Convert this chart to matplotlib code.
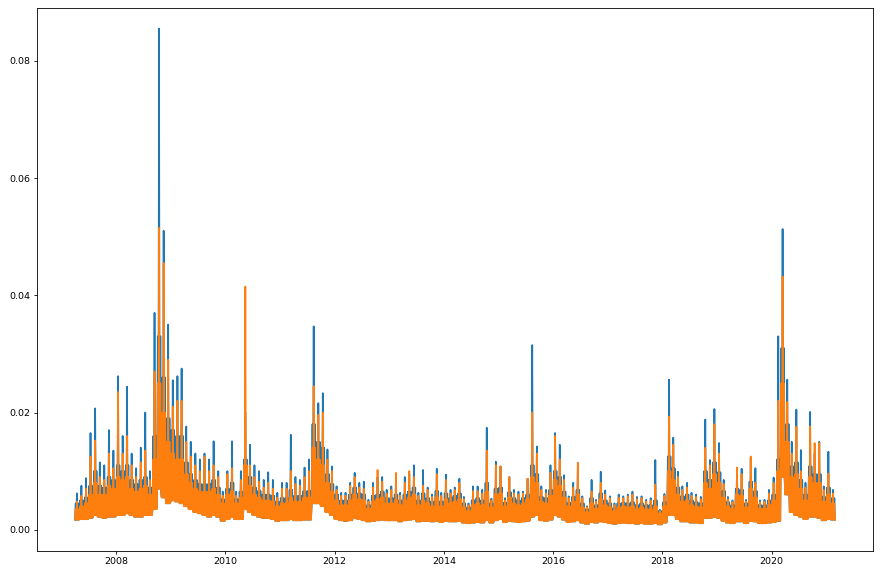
import numpy as np
import pandas as pd
import matplotlib
matplotlib.use('Agg')
import matplotlib.pyplot as plt
import matplotlib.dates as mdates

# monthly readings, Apr 2007 .. Feb 2021
months = pd.date_range('2007-04-01', '2021-02-01', freq='MS')

# blue series: monthly peak and typical band top
blue_hi = (
    [0.0062, 0.0075, 0.0088, 0.0165, 0.0207, 0.0115, 0.0110, 0.0170, 0.0135]
    + [0.0262, 0.0160, 0.0244, 0.0130, 0.0105, 0.0140, 0.0200, 0.0100, 0.0370, 0.0855, 0.0510, 0.0350]
    + [0.0255, 0.0262, 0.0275, 0.0176, 0.0150, 0.0130, 0.0120, 0.0130, 0.0120, 0.0151, 0.0100, 0.0065]
    + [0.0100, 0.0151, 0.0065, 0.0100, 0.0200, 0.0145, 0.0110, 0.0100, 0.0085, 0.0098, 0.0085, 0.0063]
    + [0.0080, 0.0080, 0.0162, 0.0090, 0.0085, 0.0106, 0.0120, 0.0347, 0.0216, 0.0233, 0.0137, 0.0108]
    + [0.0074, 0.0063, 0.0063, 0.0080, 0.0097, 0.0080, 0.0082, 0.0051, 0.0080, 0.0090, 0.0090, 0.0068]
    + [0.0074, 0.0085, 0.0063, 0.0090, 0.0095, 0.0110, 0.0063, 0.0102, 0.0072, 0.0060, 0.0104, 0.0063]
    + [0.0094, 0.0068, 0.0072, 0.0087, 0.0056, 0.0045, 0.0074, 0.0074, 0.0068, 0.0174, 0.0053, 0.0116]
    + [0.0108, 0.0054, 0.0090, 0.0068, 0.0065, 0.0065, 0.0087, 0.0315, 0.0142, 0.0074, 0.0068, 0.0110]
    + [0.0165, 0.0145, 0.0093, 0.0057, 0.0080, 0.0114, 0.0057, 0.0040, 0.0085, 0.0051, 0.0099, 0.0067]
    + [0.0057, 0.0045, 0.0060, 0.0057, 0.0060, 0.0065, 0.0056, 0.0057, 0.0051, 0.0054, 0.0119, 0.0034]
    + [0.0061, 0.0256, 0.0157, 0.0099, 0.0074, 0.0080, 0.0063, 0.0060, 0.0056, 0.0188, 0.0119, 0.0206]
    + [0.0148, 0.0085, 0.0056, 0.0050, 0.0106, 0.0104, 0.0051, 0.0123, 0.0105, 0.0050, 0.0051, 0.0068]
    + [0.0089, 0.0330, 0.0513, 0.0256, 0.0150, 0.0205, 0.0136, 0.0080, 0.0201, 0.0130, 0.0150, 0.0074]
    + [0.0133, 0.0068]
)
blue_mid = (
    [0.0045, 0.0050, 0.0055, 0.0075, 0.0100, 0.0075, 0.0072, 0.0090, 0.0085]
    + [0.0110, 0.0100, 0.0110, 0.0085, 0.0078, 0.0085, 0.0090, 0.0072, 0.0160, 0.0330, 0.0260, 0.0190]
    + [0.0170, 0.0160, 0.0160, 0.0115, 0.0095, 0.0085, 0.0078, 0.0078, 0.0078, 0.0085, 0.0072, 0.0052]
    + [0.0070, 0.0080, 0.0052, 0.0065, 0.0120, 0.0090, 0.0072, 0.0066, 0.0060, 0.0060, 0.0058, 0.0048]
    + [0.0054, 0.0054, 0.0068, 0.0058, 0.0058, 0.0066, 0.0066, 0.0180, 0.0150, 0.0140, 0.0095, 0.0078]
    + [0.0060, 0.0050, 0.0050, 0.0060, 0.0072, 0.0062, 0.0060, 0.0042, 0.0058, 0.0060, 0.0065, 0.0054]
    + [0.0054, 0.0060, 0.0050, 0.0060, 0.0065, 0.0072, 0.0050, 0.0062, 0.0054, 0.0048, 0.0066, 0.0048]
    + [0.0062, 0.0054, 0.0058, 0.0062, 0.0045, 0.0038, 0.0050, 0.0054, 0.0050, 0.0080, 0.0045, 0.0070]
    + [0.0072, 0.0046, 0.0064, 0.0054, 0.0050, 0.0054, 0.0060, 0.0110, 0.0095, 0.0056, 0.0054, 0.0068]
    + [0.0100, 0.0090, 0.0065, 0.0046, 0.0056, 0.0068, 0.0045, 0.0035, 0.0054, 0.0042, 0.0062, 0.0050]
    + [0.0045, 0.0037, 0.0045, 0.0046, 0.0045, 0.0047, 0.0042, 0.0045, 0.0042, 0.0042, 0.0050, 0.0032]
    + [0.0047, 0.0125, 0.0105, 0.0072, 0.0057, 0.0060, 0.0050, 0.0047, 0.0045, 0.0100, 0.0085, 0.0115]
    + [0.0098, 0.0066, 0.0047, 0.0042, 0.0070, 0.0068, 0.0045, 0.0082, 0.0066, 0.0042, 0.0042, 0.0050]
    + [0.0060, 0.0120, 0.0310, 0.0180, 0.0108, 0.0115, 0.0085, 0.0060, 0.0108, 0.0095, 0.0095, 0.0056]
    + [0.0072, 0.0054]
)

# orange series: monthly peak and typical band top
orange_hi = (
    [0.0048, 0.0058, 0.0070, 0.0125, 0.0152, 0.0090, 0.0085, 0.0130, 0.0105]
    + [0.0235, 0.0130, 0.0160, 0.0110, 0.0090, 0.0115, 0.0135, 0.0085, 0.0270, 0.0515, 0.0455, 0.0290]
    + [0.0210, 0.0220, 0.0220, 0.0150, 0.0125, 0.0110, 0.0100, 0.0125, 0.0100, 0.0110, 0.0090, 0.0058]
    + [0.0095, 0.0105, 0.0058, 0.0085, 0.0415, 0.0110, 0.0090, 0.0082, 0.0072, 0.0080, 0.0070, 0.0055]
    + [0.0070, 0.0070, 0.0100, 0.0078, 0.0075, 0.0090, 0.0100, 0.0245, 0.0196, 0.0200, 0.0120, 0.0100]
    + [0.0068, 0.0058, 0.0058, 0.0075, 0.0090, 0.0072, 0.0070, 0.0048, 0.0072, 0.0102, 0.0082, 0.0062]
    + [0.0068, 0.0097, 0.0058, 0.0080, 0.0100, 0.0090, 0.0058, 0.0075, 0.0068, 0.0056, 0.0095, 0.0058]
    + [0.0085, 0.0062, 0.0068, 0.0080, 0.0052, 0.0042, 0.0066, 0.0066, 0.0062, 0.0135, 0.0050, 0.0110]
    + [0.0108, 0.0050, 0.0090, 0.0062, 0.0060, 0.0062, 0.0087, 0.0200, 0.0130, 0.0068, 0.0062, 0.0097]
    + [0.0160, 0.0120, 0.0085, 0.0054, 0.0072, 0.0114, 0.0054, 0.0038, 0.0065, 0.0048, 0.0080, 0.0060]
    + [0.0054, 0.0042, 0.0055, 0.0054, 0.0057, 0.0060, 0.0052, 0.0054, 0.0048, 0.0050, 0.0077, 0.0032]
    + [0.0058, 0.0193, 0.0145, 0.0090, 0.0068, 0.0072, 0.0058, 0.0056, 0.0052, 0.0140, 0.0110, 0.0180]
    + [0.0130, 0.0078, 0.0052, 0.0047, 0.0106, 0.0095, 0.0048, 0.0125, 0.0080, 0.0047, 0.0048, 0.0062]
    + [0.0080, 0.0220, 0.0432, 0.0218, 0.0130, 0.0176, 0.0100, 0.0072, 0.0176, 0.0148, 0.0148, 0.0068]
    + [0.0096, 0.0062]
)
orange_mid = (
    [0.0035, 0.0040, 0.0045, 0.0060, 0.0080, 0.0060, 0.0060, 0.0075, 0.0070]
    + [0.0090, 0.0085, 0.0090, 0.0070, 0.0065, 0.0070, 0.0075, 0.0060, 0.0120, 0.0250, 0.0200, 0.0150]
    + [0.0130, 0.0120, 0.0120, 0.0095, 0.0080, 0.0070, 0.0065, 0.0065, 0.0065, 0.0070, 0.0060, 0.0045]
    + [0.0060, 0.0065, 0.0045, 0.0055, 0.0110, 0.0075, 0.0060, 0.0055, 0.0050, 0.0050, 0.0048, 0.0040]
    + [0.0045, 0.0045, 0.0055, 0.0048, 0.0048, 0.0055, 0.0055, 0.0140, 0.0120, 0.0110, 0.0080, 0.0065]
    + [0.0050, 0.0042, 0.0042, 0.0050, 0.0060, 0.0052, 0.0050, 0.0036, 0.0048, 0.0052, 0.0055, 0.0045]
    + [0.0045, 0.0050, 0.0042, 0.0050, 0.0055, 0.0060, 0.0042, 0.0050, 0.0045, 0.0040, 0.0055, 0.0040]
    + [0.0052, 0.0045, 0.0048, 0.0052, 0.0038, 0.0032, 0.0042, 0.0045, 0.0042, 0.0065, 0.0038, 0.0060]
    + [0.0062, 0.0040, 0.0055, 0.0045, 0.0042, 0.0045, 0.0052, 0.0090, 0.0080, 0.0048, 0.0045, 0.0058]
    + [0.0085, 0.0075, 0.0055, 0.0040, 0.0048, 0.0060, 0.0038, 0.0030, 0.0045, 0.0036, 0.0052, 0.0042]
    + [0.0038, 0.0032, 0.0038, 0.0040, 0.0038, 0.0040, 0.0035, 0.0038, 0.0035, 0.0035, 0.0040, 0.0028]
    + [0.0040, 0.0100, 0.0085, 0.0060, 0.0048, 0.0050, 0.0042, 0.0040, 0.0038, 0.0080, 0.0070, 0.0095]
    + [0.0080, 0.0055, 0.0040, 0.0036, 0.0060, 0.0058, 0.0038, 0.0070, 0.0055, 0.0036, 0.0036, 0.0042]
    + [0.0050, 0.0100, 0.0250, 0.0150, 0.0090, 0.0095, 0.0070, 0.0050, 0.0090, 0.0080, 0.0080, 0.0048]
    + [0.0060, 0.0045]
)

# lower edge of the band (shared by both series, blue lows sit under orange)
band_low = (
    [0.0017, 0.0018, 0.0018, 0.0020, 0.0025, 0.0022, 0.0020, 0.0022, 0.0022]
    + [0.0025, 0.0025, 0.0028, 0.0025, 0.0022, 0.0022, 0.0025, 0.0025, 0.0035, 0.0070, 0.0055, 0.0045]
    + [0.0050, 0.0048, 0.0045, 0.0040, 0.0035, 0.0030, 0.0028, 0.0025, 0.0022, 0.0025, 0.0022, 0.0015]
    + [0.0018, 0.0022, 0.0018, 0.0018, 0.0035, 0.0030, 0.0025, 0.0022, 0.0020, 0.0020, 0.0018, 0.0015]
    + [0.0016, 0.0016, 0.0018, 0.0016, 0.0016, 0.0017, 0.0017, 0.0045, 0.0045, 0.0040, 0.0030, 0.0025]
    + [0.0018, 0.0016, 0.0015, 0.0016, 0.0020, 0.0018, 0.0016, 0.0014, 0.0015, 0.0016, 0.0017, 0.0016]
    + [0.0016, 0.0016, 0.0014, 0.0016, 0.0017, 0.0018, 0.0014, 0.0015, 0.0015, 0.0014, 0.0015, 0.0013]
    + [0.0015, 0.0014, 0.0014, 0.0015, 0.0012, 0.0011, 0.0012, 0.0013, 0.0012, 0.0016, 0.0012, 0.0016]
    + [0.0018, 0.0013, 0.0015, 0.0014, 0.0013, 0.0014, 0.0015, 0.0022, 0.0025, 0.0016, 0.0015, 0.0017]
    + [0.0025, 0.0022, 0.0017, 0.0013, 0.0014, 0.0016, 0.0012, 0.0010, 0.0013, 0.0012, 0.0014, 0.0013]
    + [0.0011, 0.0010, 0.0011, 0.0012, 0.0011, 0.0011, 0.0010, 0.0011, 0.0010, 0.0010, 0.0011, 0.0009]
    + [0.0012, 0.0025, 0.0025, 0.0018, 0.0014, 0.0014, 0.0012, 0.0012, 0.0011, 0.0020, 0.0020, 0.0022]
    + [0.0020, 0.0015, 0.0012, 0.0011, 0.0014, 0.0014, 0.0011, 0.0015, 0.0014, 0.0011, 0.0011, 0.0012]
    + [0.0013, 0.0015, 0.0090, 0.0060, 0.0030, 0.0025, 0.0022, 0.0018, 0.0022, 0.0022, 0.0020, 0.0016]
    + [0.0018, 0.0017]
)

for arr in (blue_hi, blue_mid, orange_hi, orange_mid, band_low):
    assert len(arr) == len(months), len(arr)

# within each month the daily series swings between band edge, band top and the peak
offsets = [0, 5, 9, 13, 17, 22, 26]
pattern = ['lo', 'mid', 'lo', 'hi', 'lo', 'mid', 'lo']


def month_path(hi, mid, lo):
    dates, vals = [], []
    for m, h, md, l in zip(months, hi, mid, lo):
        level = {'hi': h, 'mid': md, 'lo': l}
        for off, kind in zip(offsets, pattern):
            dates.append(m + pd.Timedelta(days=off))
            vals.append(level[kind])
    return dates, vals


fig = plt.figure(figsize=(8.8, 5.75), dpi=100)
ax = fig.add_axes([0.042, 0.042, 0.950, 0.944])

d, v = month_path(blue_hi, blue_mid, band_low)
ax.plot(d, v, color='#1f77b4', lw=1.25)
d, v = month_path(orange_hi, orange_mid, band_low)
ax.plot(d, v, color='#ff7f0e', lw=1.25)

ax.set_ylim(-0.0036, 0.089)
ax.set_yticks([0.0, 0.02, 0.04, 0.06, 0.08])
ax.xaxis.set_major_locator(mdates.YearLocator(2))
ax.xaxis.set_major_formatter(mdates.DateFormatter('%Y'))
ax.tick_params(labelsize=6.8, length=2.5, width=0.6, pad=2)
for s in ax.spines.values():
    s.set_linewidth(0.6)

fig.savefig('out.png', dpi=100)
